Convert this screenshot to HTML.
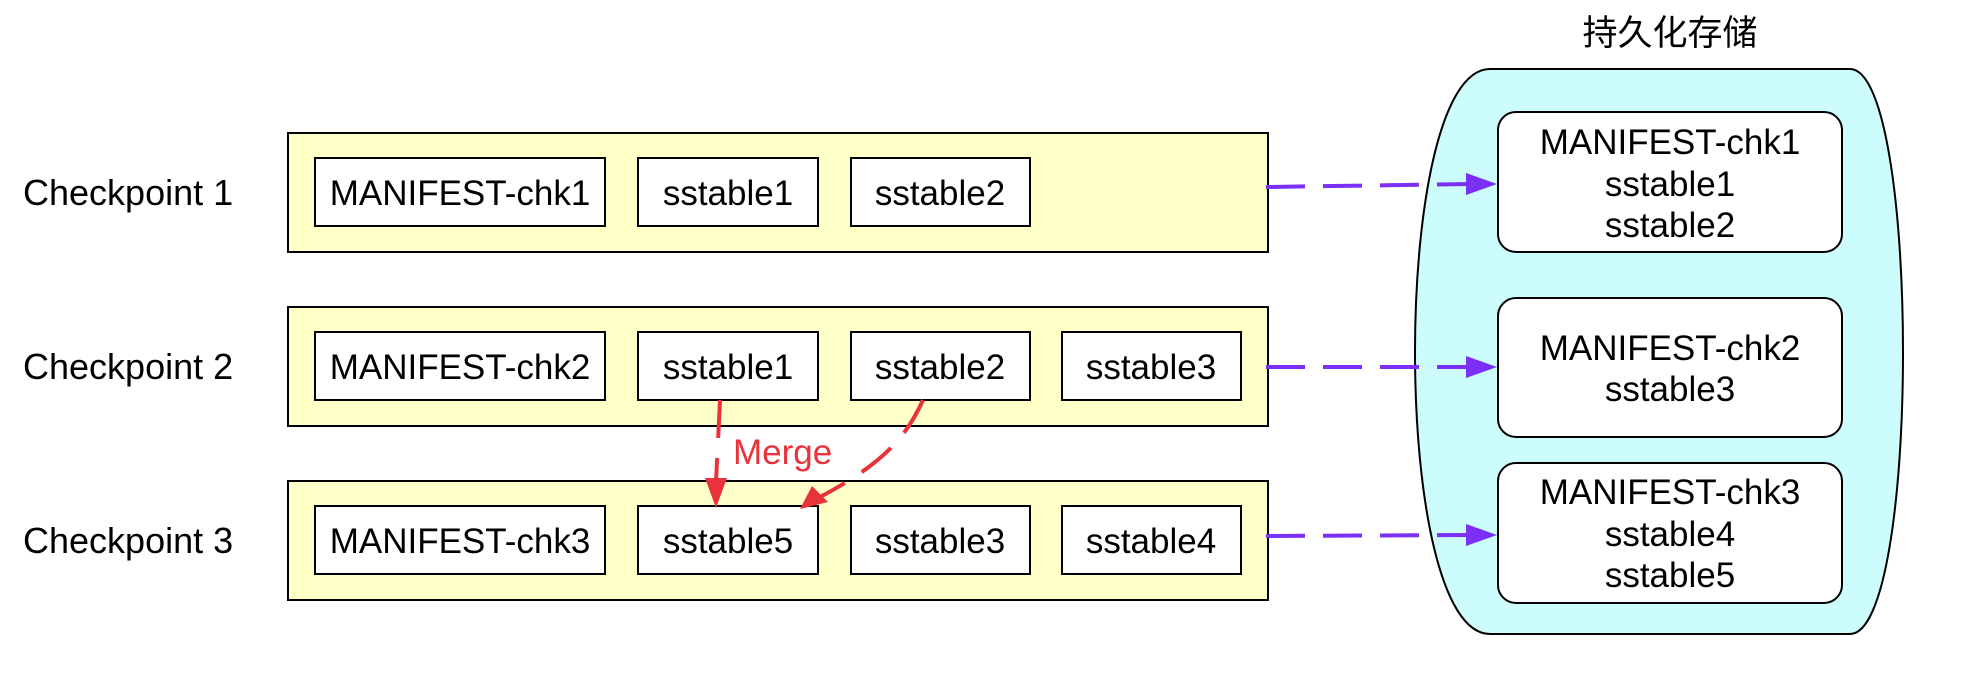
<!DOCTYPE html>
<html><head><meta charset="utf-8"><style>
html,body{margin:0;padding:0;background:#fff;}
svg{display:block;}
text{font-family:"Liberation Sans","Noto Sans CJK SC",sans-serif;}
</style></head><body>
<svg width="1974" height="686" viewBox="0 0 1974 686" xmlns="http://www.w3.org/2000/svg">
<g font-size="36" fill="#000">
<text x="23" y="205">Checkpoint 1</text>
<text x="23" y="379">Checkpoint 2</text>
<text x="23" y="553">Checkpoint 3</text>
</g>
<g fill="#ffffc8" stroke="#000" stroke-width="2">
<rect x="288" y="133" width="980" height="119"/>
<rect x="288" y="307" width="980" height="119"/>
<rect x="288" y="481" width="980" height="119"/>
</g>
<g fill="#fff" stroke="#000" stroke-width="2">
<rect x="315" y="158" width="290" height="68"/>
<rect x="638" y="158" width="180" height="68"/>
<rect x="851" y="158" width="179" height="68"/>
<rect x="315" y="332" width="290" height="68"/>
<rect x="638" y="332" width="180" height="68"/>
<rect x="851" y="332" width="179" height="68"/>
<rect x="1062" y="332" width="179" height="68"/>
<rect x="315" y="506" width="290" height="68"/>
<rect x="638" y="506" width="180" height="68"/>
<rect x="851" y="506" width="179" height="68"/>
<rect x="1062" y="506" width="179" height="68"/>
</g>
<g font-size="35" fill="#000" text-anchor="middle">
<text x="460" y="205">MANIFEST-chk1</text>
<text x="728" y="205">sstable1</text>
<text x="940" y="205">sstable2</text>
<text x="460" y="379">MANIFEST-chk2</text>
<text x="728" y="379">sstable1</text>
<text x="940" y="379">sstable2</text>
<text x="1151" y="379">sstable3</text>
<text x="460" y="553">MANIFEST-chk3</text>
<text x="728" y="553">sstable5</text>
<text x="940" y="553">sstable3</text>
<text x="1151" y="553">sstable4</text>
</g>
<text x="1670" y="45" font-size="35" text-anchor="middle" fill="#000">持久化存储</text>
<path d="M1490,69 L1850,69 C1885,69 1903,210 1903,352 C1903,495 1885,634 1850,634 L1490,634 C1440,634 1415,495 1415,352 C1415,210 1440,69 1490,69 Z" fill="#ccfcfc" stroke="#000" stroke-width="2"/>
<g fill="#fff" stroke="#000" stroke-width="2">
<rect x="1498" y="112" width="344" height="140" rx="18"/>
<rect x="1498" y="298" width="344" height="139" rx="18"/>
<rect x="1498" y="463" width="344" height="140" rx="18"/>
</g>
<g font-size="35" fill="#000" text-anchor="middle">
<text x="1670" y="154">MANIFEST-chk1</text>
<text x="1670" y="196">sstable1</text>
<text x="1670" y="237">sstable2</text>
<text x="1670" y="360">MANIFEST-chk2</text>
<text x="1670" y="401">sstable3</text>
<text x="1670" y="504">MANIFEST-chk3</text>
<text x="1670" y="546">sstable4</text>
<text x="1670" y="587">sstable5</text>
</g>
<g stroke="#7b2ff7" stroke-width="4" fill="none" stroke-dasharray="39 18">
<line x1="1266" y1="187" x2="1470" y2="184"/>
<line x1="1266" y1="367" x2="1470" y2="367"/>
<line x1="1266" y1="536" x2="1470" y2="535"/>
</g>
<g fill="#7b2ff7">
<polygon points="1466,173 1497,184 1466,195"/>
<polygon points="1466,356 1497,367 1466,378"/>
<polygon points="1466,524 1497,535 1466,546"/>
</g>
<g stroke="#e8333a" stroke-width="4" fill="none" stroke-dasharray="38 20">
<path d="M720,400 L716,482"/>
<path d="M923,400 C905,440 880,465 820,497"/>
</g>
<g fill="#e8333a">
<polygon points="705,478 727,478 716,508"/>
<polygon points="812,486 828,502 800,509"/>
</g>
<text x="733" y="464" font-size="35" fill="#e8333a">Merge</text>
</svg>
</body></html>
